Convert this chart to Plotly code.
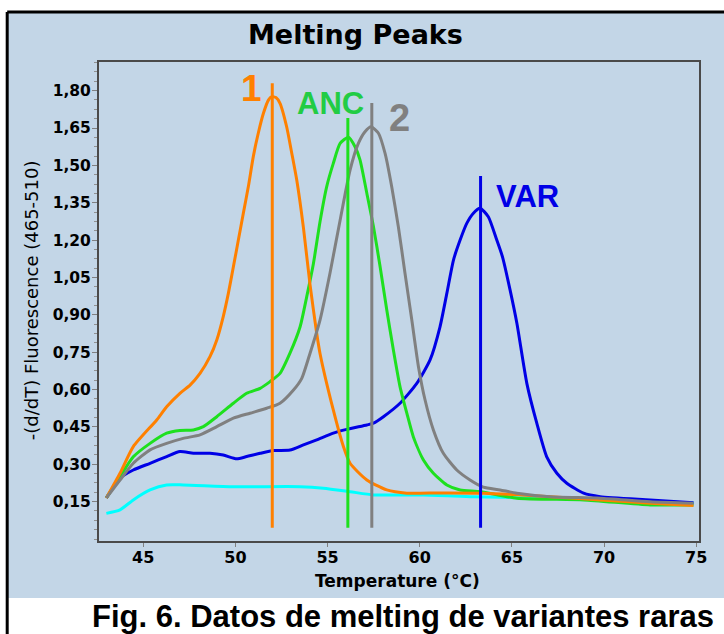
import plotly.graph_objects as go

# ---- data (Temperature °C, -(d/dT) Fluorescence) ----
orange_x = [43.0, 43.74, 44.46, 45.73, 46.27, 46.99, 47.54, 48.08, 48.62, 48.99, 49.34, 49.62, 49.89,
            50.16, 50.43, 50.7, 50.97, 51.24, 51.52, 51.79, 51.97, 52.2, 52.42, 52.78, 53.06, 53.33,
            53.69, 54.05, 54.41, 54.59, 55.31, 55.86, 56.22, 57.13, 58.21, 59.3, 61.1, 63.45, 65.3,
            67.07, 69.79, 72.5, 74.85]
orange_y = [0.165, 0.264, 0.371, 0.478, 0.531, 0.585, 0.618, 0.665, 0.732, 0.799, 0.893, 0.987, 1.093,
            1.20, 1.308, 1.414, 1.535, 1.629, 1.709, 1.762, 1.776, 1.772, 1.749, 1.655, 1.548, 1.44,
            1.25, 1.02, 0.826, 0.745, 0.518, 0.371, 0.304, 0.237, 0.197, 0.184, 0.185, 0.184, 0.178,
            0.17, 0.157, 0.144, 0.135]

green_x = [43.0, 43.74, 44.46, 45.37, 46.27, 46.99, 47.72, 48.26, 48.99, 49.89, 50.61, 51.34, 51.88,
           52.42, 52.96, 53.51, 53.87, 54.23, 54.59, 54.95, 55.31, 55.68, 56.13, 56.49, 56.76, 57.13,
           57.49, 57.85, 58.21, 58.57, 58.93, 59.3, 59.65, 60.2, 60.74, 61.47, 62.19, 63.3, 65.27,
           68.89, 72.5, 74.85]
green_y = [0.165, 0.25, 0.33, 0.384, 0.425, 0.436, 0.438, 0.451, 0.491, 0.545, 0.585, 0.605, 0.632,
           0.665, 0.746, 0.852, 0.973, 1.105, 1.274, 1.414, 1.508, 1.588, 1.613, 1.575, 1.522, 1.388,
           1.254, 1.093, 0.92, 0.759, 0.612, 0.505, 0.411, 0.317, 0.264, 0.217, 0.197, 0.19, 0.164,
           0.157, 0.137, 0.137]

gray_x = [43.0, 43.74, 44.46, 45.37, 46.27, 47.17, 48.08, 48.99, 49.89, 50.79, 51.7, 52.42, 53.15,
          53.6, 54.05, 54.59, 55.13, 55.68, 56.22, 56.67, 57.03, 57.36, 57.76, 58.12, 58.48, 58.84,
          59.2, 59.57, 59.93, 60.29, 60.74, 61.28, 62.01, 62.73, 63.45, 64.36, 65.27, 67.07, 69.79,
          72.5, 74.85]
gray_y = [0.165, 0.237, 0.304, 0.358, 0.384, 0.404, 0.418, 0.451, 0.485, 0.505, 0.525, 0.545, 0.598,
          0.645, 0.746, 0.879, 1.067, 1.28, 1.481, 1.588, 1.635, 1.655, 1.629, 1.548, 1.414, 1.254,
          1.067, 0.879, 0.692, 0.558, 0.438, 0.344, 0.277, 0.237, 0.208, 0.197, 0.184, 0.17, 0.164,
          0.15, 0.144]

blue_x = [43.0, 43.74, 44.46, 45.37, 46.27, 46.99, 47.72, 48.62, 49.34, 50.07, 50.61, 51.34, 52.06,
          52.96, 53.69, 54.41, 55.31, 56.04, 57.13, 57.49, 58.03, 58.93, 59.84, 60.56, 61.1, 61.47,
          61.83, 62.19, 62.55, 62.91, 63.27, 63.72, 64.18, 64.5, 64.9, 65.27, 65.81, 66.35, 66.89,
          67.44, 67.98, 68.89, 69.79, 72.5, 74.85]
blue_y = [0.165, 0.244, 0.277, 0.304, 0.331, 0.351, 0.344, 0.344, 0.337, 0.322, 0.331, 0.344, 0.355,
          0.357, 0.378, 0.398, 0.425, 0.44, 0.458, 0.465, 0.491, 0.545, 0.625, 0.719, 0.852, 0.986,
          1.12, 1.2, 1.267, 1.308, 1.328, 1.294, 1.2, 1.13, 1.0, 0.866, 0.625, 0.465, 0.33,
          0.264, 0.224, 0.184, 0.17, 0.157, 0.146]

cyan_x = [43.0, 43.74, 44.46, 45.37, 46.27, 47.17, 49.89, 53.51, 54.77, 56.22, 57.49, 60.2, 62.91,
          66.0, 70.0, 74.85]
cyan_y = [0.103, 0.117, 0.157, 0.197, 0.217, 0.217, 0.21, 0.21, 0.204, 0.19, 0.177, 0.177, 0.17,
          0.165, 0.158, 0.145]

# peak markers: (Tm, top of marker line) and labels
peak_names = ["1", "ANC", "2", "VAR"]
peak_tm = [52.0, 56.1, 57.4, 63.3]
peak_top = [1.83, 1.69, 1.75, 1.457]
peak_bottom = 0.045
label_x = [50.87, 55.17, 58.88, 65.85]
label_y = [1.81, 1.75, 1.69, 1.377]

y_ticks = [0.15, 0.30, 0.45, 0.60, 0.75, 0.90, 1.05, 1.20, 1.35, 1.50, 1.65, 1.80]
x_ticks = [45, 50, 55, 60, 65, 70, 75]

C_OR = "#FF8000"
C_GR = "#1EE01E"
C_GY = "#808080"
C_BL = "#0000E6"
C_CY = "#00FFFF"
peak_colors = [C_OR, C_GR, C_GY, C_BL]
label_colors = [C_OR, "#22CC44", C_GY, C_BL]
label_sizes = [37, 31, 38, 31]

FONT = "Liberation Sans, Arial"
WFONT = "DejaVu Sans"

fig = go.Figure()
for xs, ys, c in [(cyan_x, cyan_y, C_CY), (blue_x, blue_y, C_BL), (green_x, green_y, C_GR),
                  (orange_x, orange_y, C_OR), (gray_x, gray_y, C_GY)]:
    fig.add_trace(go.Scatter(x=xs, y=ys, mode="lines", line=dict(color=c, width=3, shape="spline",
                                                                   smoothing=0.6),
                             hoverinfo="skip", showlegend=False))

for tm, top, c in zip(peak_tm, peak_top, peak_colors):
    fig.add_trace(go.Scatter(x=[tm, tm], y=[peak_bottom, top], mode="lines",
                             line=dict(color=c, width=3), showlegend=False, hoverinfo="skip"))

for name, lx, ly, c, s in zip(peak_names, label_x, label_y, label_colors, label_sizes):
    fig.add_annotation(x=lx, y=ly, text=name, showarrow=False, xref="x", yref="y",
                       xanchor="center", yanchor="middle",
                       font=dict(family=FONT, size=s, color=c, weight="bold"))

# panel background
fig.add_shape(type="rect", xref="paper", yref="paper", x0=-0.153, x1=1.06, y0=-0.119, y1=1.1044,
              fillcolor="#C3D6E7", line=dict(width=0), layer="below")
fig.add_shape(type="line", xref="paper", yref="paper", x0=-0.153, x1=1.06, y0=1.1044, y1=1.1044,
              line=dict(color="black", width=3), layer="below")
fig.add_shape(type="line", xref="paper", yref="paper", x0=-0.153, x1=-0.153, y0=-0.2, y1=1.1044,
              line=dict(color="black", width=3), layer="below")

fig.add_annotation(x=0.427, y=1.0564, xref="paper", yref="paper", text="Melting Peaks",
                   showarrow=False, xanchor="center", yanchor="middle",
                   font=dict(family=WFONT, size=27, color="black", weight="bold"))
fig.add_annotation(x=-0.113, y=0.503, xref="paper", yref="paper", text="-(d/dT) Fluorescence (465-510)",
                   showarrow=False, textangle=-90, xanchor="center", yanchor="middle",
                   font=dict(family=WFONT, size=18, color="black"))
fig.add_annotation(x=0.497, y=-0.0835, xref="paper", yref="paper", text="Temperature (°C)",
                   showarrow=False, xanchor="center", yanchor="middle",
                   font=dict(family=WFONT, size=17, color="black", weight="bold"))
fig.add_annotation(x=0.507, y=-0.157, xref="paper", yref="paper",
                   text="Fig. 6. Datos de melting de variantes raras",
                   showarrow=False, xanchor="center", yanchor="middle",
                   font=dict(family=FONT, size=31, color="black", weight="bold"))

fig.update_layout(
    width=724, height=634,
    margin=dict(l=99, r=25, t=62, b=93),
    paper_bgcolor="white", plot_bgcolor="white",
    separators=",.",
    showlegend=False,
    xaxis=dict(range=[42.6, 75.15], tickvals=x_ticks, ticks="outside", ticklen=4, tickcolor="#808080",
               ticklabelstandoff=-3,
               showgrid=False, zeroline=False, showline=True, mirror=True, linecolor="#4A4A4A",
               linewidth=2, tickfont=dict(family=WFONT, size=16, color="black", weight="bold")),
    yaxis=dict(range=[-0.008, 1.915], tickvals=y_ticks, tickformat=".2f", ticks="outside", ticklen=5,
               tickcolor="#808080", showgrid=False, zeroline=False, showline=True, mirror=True,
               linecolor="#4A4A4A", linewidth=2, ticklabelstandoff=-2,
               minor=dict(dtick=0.0375, tick0=0.0, ticks="outside", ticklen=3, tickcolor="#909090"),
               tickfont=dict(family=WFONT, size=15.5, color="black", weight="bold")),
)

fig.write_html("out.html")
